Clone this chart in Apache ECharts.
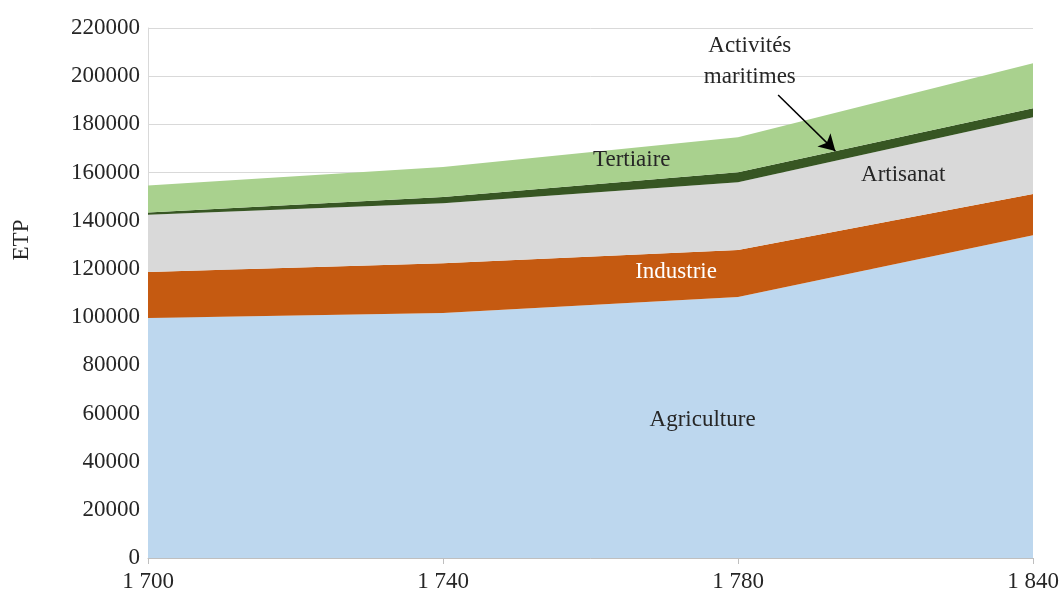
<!DOCTYPE html>
<html>
<head>
<meta charset="utf-8">
<script src="https://cdn.jsdelivr.net/npm/echarts@6/dist/echarts.min.js"></script>
<style>
  html, body { margin: 0; padding: 0; background: #fff; }
  #chart { width: 1064px; height: 603px; }
</style>
</head>
<body>
<div id="chart"></div>
<script>
// categories (equally spaced on the axis, as in the source)
var years = ['1 700', '1 740', '1 780', '1 840'];

// ETP by sector, stacked from the bottom
var agriculture = [99600, 101700, 108300, 134000];
var industrie = [19100, 20700, 19500, 17100];
var artisanat = [23800, 24900, 28200, 31900];
var maritimes = [900, 2500, 4100, 3700];
var tertiaire = [11200, 12500, 14500, 18700];

var yTicks = { min: 0, max: 220000, step: 20000 };

var font = 'Liberation Serif';
var txt = '#262626';

function areaSeries(name, values, color) {
	return {
		name: name,
		type: 'line',
		stack: 'etp',
		data: values,
		showSymbol: false,
		symbol: 'none',
		lineStyle: { width: 0 },
		areaStyle: { color: color, opacity: 1 },
		silent: true,
		z: 2
	};
}

// label placed on the hidden 0..3 axis so it can sit between categories
function note(text, x, y, color) {
	return {
		coord: [x, y],
		label: {
			show: true,
			position: 'inside',
			formatter: text,
			color: color || txt,
			fontFamily: font,
			fontSize: 23,
			lineHeight: 31
		}
	};
}

var chart = echarts.init(document.getElementById('chart'));
var option = {
	animation: false,
	backgroundColor: '#fff',
	grid: { left: 148, right: 31, top: 28, bottom: 45 },
	xAxis: [{
		type: 'category',
		data: years,
		boundaryGap: false,
		axisLine: { show: true, lineStyle: { color: '#bfbfbf', width: 1 } },
		axisTick: { show: true, length: 6, lineStyle: { color: '#bfbfbf' } },
		splitLine: { show: false },
		axisLabel: {
			color: txt,
			fontFamily: font,
			fontSize: 23,
			margin: 12
		}
	}, {
		type: 'value',
		min: 0,
		max: years.length - 1,
		show: false
	}],
	yAxis: {
		type: 'value',
		min: yTicks.min,
		max: yTicks.max,
		interval: yTicks.step,
		axisLine: { show: true, lineStyle: { color: '#d9d9d9' } },
		axisTick: { show: false },
		splitLine: { show: true, lineStyle: { color: '#d9d9d9', width: 1 } },
		axisLabel: {
			formatter: function(v) { return String(v); },
			color: txt,
			fontFamily: font,
			fontSize: 23,
			margin: 8
		}
	},
	graphic: [{
		type: 'text',
		x: 22,
		y: 240,
		rotation: Math.PI / 2,
		style: {
			text: 'ETP',
			fill: txt,
			font: '23px "Liberation Serif"',
			align: 'center',
			verticalAlign: 'middle'
		}
	}],
	series: [
		areaSeries('Agriculture', agriculture, '#bdd7ee'),
		areaSeries('Industrie', industrie, '#c55a11'),
		areaSeries('Artisanat', artisanat, '#d9d9d9'),
		areaSeries('Activités maritimes', maritimes, '#375623'),
		areaSeries('Tertiaire', tertiaire, '#a9d18e'),
		{
			name: 'notes',
			type: 'line',
			xAxisIndex: 1,
			data: [],
			silent: true,
			z: 5,
			markPoint: {
				symbol: 'circle',
				symbolSize: 0,
				silent: true,
				data: [
					note('Agriculture', 1.88, 57300),
					note('Industrie', 1.79, 118700, '#ffffff'),
					note('Artisanat', 2.56, 159000),
					note('Tertiaire', 1.64, 165200),
					note('Activités\nmaritimes', 2.04, 206300)
				]
			},
			markLine: {
				silent: true,
				symbol: ['none', 'arrow'],
				symbolSize: [14, 16],
				label: { show: false },
				lineStyle: { color: '#000', width: 1.5, type: 'solid' },
				data: [[{ coord: [2.136, 192200] }, { coord: [2.33, 168900] }]]
			}
		}
	]
};
chart.setOption(option);
</script>
</body>
</html>
